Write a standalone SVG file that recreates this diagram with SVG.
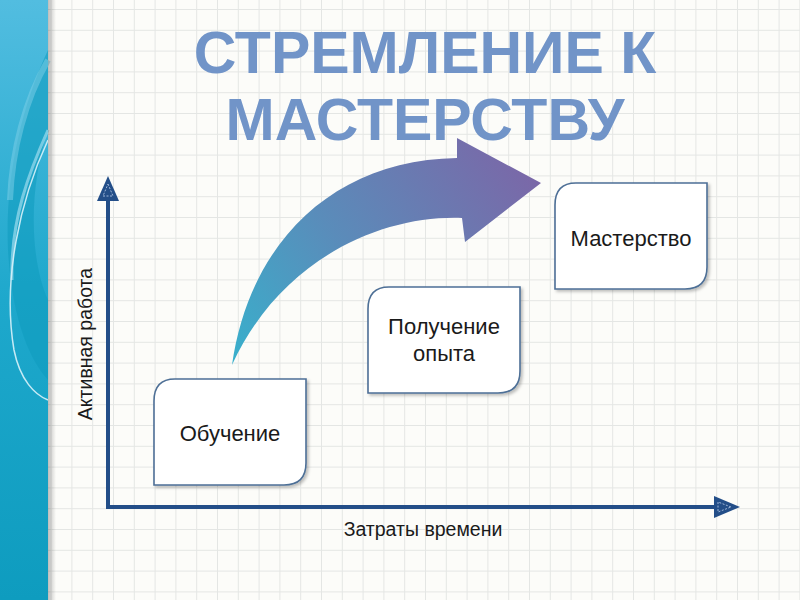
<svg xmlns="http://www.w3.org/2000/svg" width="800" height="600" viewBox="0 0 800 600">
<defs>
<pattern id="grid" x="9" y="9" width="20.8" height="20.8" patternUnits="userSpaceOnUse">
<path d="M0,0.5 H20.8 M0.5,0 V20.8" fill="none" stroke="#e4e6e4" stroke-width="1"/>
</pattern>
<linearGradient id="strip" x1="0" y1="0" x2="0" y2="1">
<stop offset="0" stop-color="#52bde0"/>
<stop offset="0.5" stop-color="#1ea8cc"/>
<stop offset="1" stop-color="#0e9cbf"/>
</linearGradient>
<linearGradient id="shade" x1="0" y1="0" x2="1" y2="0">
<stop offset="0" stop-color="#000" stop-opacity="0.25"/>
<stop offset="1" stop-color="#000" stop-opacity="0"/>
</linearGradient>
<linearGradient id="arrowGrad" x1="232" y1="365" x2="520" y2="160" gradientUnits="userSpaceOnUse">
<stop offset="0" stop-color="#38b0cc"/>
<stop offset="0.45" stop-color="#5a8cba"/>
<stop offset="1" stop-color="#7a68a8"/>
</linearGradient>
<filter id="sh" x="-10%" y="-10%" width="130%" height="130%">
<feDropShadow dx="2" dy="2" stdDeviation="1.5" flood-color="#000" flood-opacity="0.25"/>
</filter>
</defs>
<style>
.box{fill:#ffffff;stroke:#4e6f96;stroke-width:1.6;filter:url(#sh)}
.lbl{font-family:"Liberation Sans",Arial,sans-serif;font-size:22px;fill:#1a1a1a;text-anchor:middle}
.ax{font-family:"Liberation Sans",Arial,sans-serif;font-size:19.5px;fill:#1a1a1a;text-anchor:middle}
.title{font-family:"Liberation Sans",Arial,sans-serif;font-weight:bold;font-size:59px;fill:#7194c8;text-anchor:middle}
.axis{fill:none;stroke:#234e88;stroke-width:4}
.head{fill:#234e88}
.inner{fill:none;stroke:#9fb6d8;stroke-width:1;stroke-dasharray:2 1.5}
</style>
<rect width="800" height="600" fill="#fcfcf9"/>
<rect width="800" height="600" fill="url(#grid)"/>
<g id="strip">
<rect x="0" y="0" width="48" height="600" fill="url(#strip)"/>
<path d="M48,50 C20,110 5,180 8,250 C12,320 30,360 48,380 L48,300 C30,260 28,190 48,130 Z" fill="#0f9bbd" opacity="0.55"/>
<path d="M48,130 C30,170 10,220 12,280" fill="none" stroke="#9ddcee" stroke-width="3" opacity="0.7"/>
<path d="M48,140 C20,200 2,280 14,350 C20,380 35,395 48,400" fill="none" stroke="#d8f2fa" stroke-width="1.5" opacity="0.9"/>
<path d="M48,60 C25,100 12,150 10,200" fill="none" stroke="#7fd0e8" stroke-width="6" opacity="0.5"/>
<rect x="48" y="0" width="8" height="600" fill="url(#shade)"/>
</g>
<g id="title">
<text class="title" x="425" y="73">СТРЕМЛЕНИЕ К</text>
<text class="title" x="425" y="140">МАСТЕРСТВУ</text>
</g>
<g id="connectors">
<path class="axis" d="M108,198 V507 H714"/>
<path class="head" d="M108,176 L119,201 L97,201 Z"/>
<path class="inner" d="M108,184 L113,196 L103,196 Z"/>
<path class="head" d="M740,507 L714,496 L714,518 Z"/>
<path class="inner" d="M731,507 L718,502 L718,512 Z"/>
<path id="bigArrow" d="M232,365 C250,240 335,160 457,158 L457,138 L541,183 L465,242 L462,218 C380,215 280,260 232,365 Z" fill="url(#arrowGrad)"/>
</g>
<g id="n1">
<path class="box" d="M175,379 H306 V463 Q306,485 284,485 H154 V401 Q154,379 175,379 Z"/>
<text class="lbl" x="230" y="441">Обучение</text>
</g>
<g id="n2">
<path class="box" d="M389,287 H520 V371 Q520,393 498,393 H368 V309 Q368,287 389,287 Z"/>
<text class="lbl" x="444" y="334">Получение</text>
<text class="lbl" x="444" y="361">опыта</text>
</g>
<g id="n3">
<path class="box" d="M576,183 H707 V267 Q707,289 685,289 H555 V205 Q555,183 576,183 Z"/>
<text class="lbl" x="631" y="246">Мастерство</text>
</g>
<g id="axisLabels">
<text class="ax" transform="translate(92,344) rotate(-90)">Активная работа</text>
<text class="ax" x="423" y="536">Затраты времени</text>
</g>
</svg>
